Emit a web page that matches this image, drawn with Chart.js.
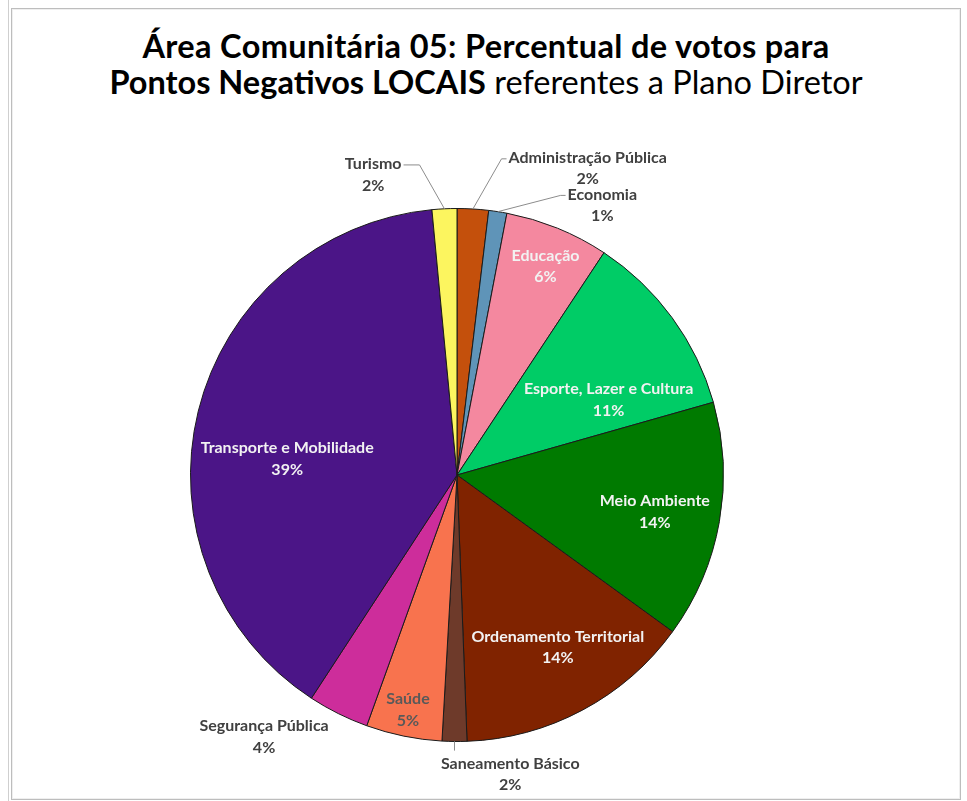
<!DOCTYPE html>
<html>
<head>
<meta charset="utf-8">
<script src="https://cdn.jsdelivr.net/npm/chart.js@4.4.1/dist/chart.umd.min.js"></script>
<style>
  html, body { margin: 0; padding: 0; background: #fff; }
  body { width: 967px; height: 801px; position: relative; overflow: hidden; font-family: Lato, "Open Sans", sans-serif; }
  .edge { position: absolute; left: 8px; top: 0; width: 1px; height: 801px; background: #cfcfcf; }
  .frame { position: absolute; left: 11px; top: 8px; width: 948px; height: 790px; border: 1px solid #bdbdbd; box-shadow: inset 0 0 0 1px #efefef; }
  .title { position: absolute; left: 11px; width: 950px; top: 28px; text-align: center; font-size: 32.5px; line-height: 36px; color: #000; }
  .title b { font-weight: 700; }
  .title .l1 { letter-spacing: 0.35px; }
  .title span.n { font-weight: 400; }
  #wrap { position: absolute; left: 0; top: 0; width: 967px; height: 801px; }
</style>
</head>
<body>
<div class="edge"></div>
<div class="frame"></div>
<div class="title">
  <b class="l1">Área Comunitária 05: Percentual de votos para</b><br>
  <b>Pontos Negativos LOCAIS</b> <span class="n">referentes a Plano Diretor</span>
</div>
<div id="wrap"><canvas id="chart_pie" width="967" height="801"></canvas></div>
<script>
(function () {
  // data, clockwise from 12 o'clock
  const categories = ['Administração Pública', 'Economia', 'Educação', 'Esporte, Lazer e Cultura',
    'Meio Ambiente', 'Ordenamento Territorial', 'Saneamento Básico', 'Saúde',
    'Segurança Pública', 'Transporte e Mobilidade', 'Turismo'];
  const shares = [1.9, 1.1, 6.3, 11.3, 14.4, 14.4, 1.5, 4.6, 3.7, 39.3, 1.5];

  const sliceColors = ['#c4500c', '#5f94b8', '#f4889f', '#00cc66', '#007a00', '#802300',
    '#6e3a2a', '#f8734e', '#cd2d9b', '#4b1587', '#fcf55f'];

  // label spot: a = degrees from top (clockwise), r = fraction of radius
  const labelPlace = [
    { a: 23.1, r: 1.25, color: '#404040', leader: 'left' },
    { a: 28.3, r: 1.15, color: '#404040', leader: 'left' },
    { a: 23.0, r: 0.85, color: '#f2f2f2' },
    { a: 63.6, r: 0.635, color: '#f2f2f2' },
    { a: 100.6, r: 0.755, color: '#f2f2f2' },
    { a: 149.7, r: 0.75, color: '#f2f2f2' },
    { a: 169.9, r: 1.14, color: '#404040', leader: 'down' },
    { a: 191.8, r: 0.9, color: '#595959' },
    { a: 216.4, r: 1.22, color: '#404040' },
    { a: 275.4, r: 0.64, color: '#f2f2f2' },
    { a: 344.4, r: 1.17, color: '#404040', leader: 'right' }
  ];

  const sliceLabels = {
    id: 'sliceLabels',
    afterDatasetsDraw(chart) {
      const ctx = chart.ctx;
      const meta = chart.getDatasetMeta(0);
      const total = shares.reduce((s, v) => s + v, 0);
      const lh = 21.5;
      ctx.save();
      ctx.font = 'bold 16px Lato';
      ctx.textAlign = 'center';
      ctx.textBaseline = 'middle';
      meta.data.forEach((arc, i) => {
        const p = labelPlace[i];
        const g = arc.getProps(['x', 'y', 'outerRadius', 'startAngle', 'endAngle'], true);
        const ang = (p.a - 90) * Math.PI / 180;
        const lx = g.x + Math.cos(ang) * g.outerRadius * p.r;
        const ly = g.y + Math.sin(ang) * g.outerRadius * p.r;
        const lines = [categories[i], Math.round(shares[i] / total * 100) + '%'];
        const w = ctx.measureText(lines[0]).width;

        if (p.leader) {
          const mid = (g.startAngle + g.endAngle) / 2;
          const ex = g.x + Math.cos(mid) * g.outerRadius;
          const ey = g.y + Math.sin(mid) * g.outerRadius;
          const y1 = ly - lh / 2;
          ctx.strokeStyle = '#8c8c8c';
          ctx.lineWidth = 1;
          ctx.beginPath();
          ctx.moveTo(ex, ey);
          if (p.leader === 'left') {
            ctx.lineTo(lx - w / 2 - 7, y1 + 1);
            ctx.lineTo(lx - w / 2 - 2, y1 + 1);
          } else if (p.leader === 'right') {
            ctx.lineTo(lx + w / 2 + 18, y1 + 1);
            ctx.lineTo(lx + w / 2 + 2, y1 + 1);
          } else if (p.leader === 'down') {
            ctx.lineTo(ex, ly - lh - 2);
          }
          ctx.stroke();
        }

        ctx.fillStyle = p.color;
        ctx.fillText(lines[0], lx, ly - lh / 2);
        ctx.fillText(lines[1], lx, ly + lh / 2);
      });
      ctx.restore();
    }
  };

  let pieChart = document.querySelector('#chart_pie');

  if (pieChart) {
    new Chart(pieChart, {
      type: 'pie',
      data: {
        labels: categories,
        datasets: [{
          data: shares,
          backgroundColor: sliceColors,
          borderColor: '#1a1a1a',
          borderWidth: 1
        }]
      },
      options: {
        responsive: false,
        animation: false,
        layout: { padding: { left: 190, right: 243, top: 208, bottom: 59 } },
        plugins: {
          legend: { display: false },
          tooltip: { enabled: false }
        }
      },
      plugins: [sliceLabels]
    });
  }
})();
</script>
</body>
</html>
